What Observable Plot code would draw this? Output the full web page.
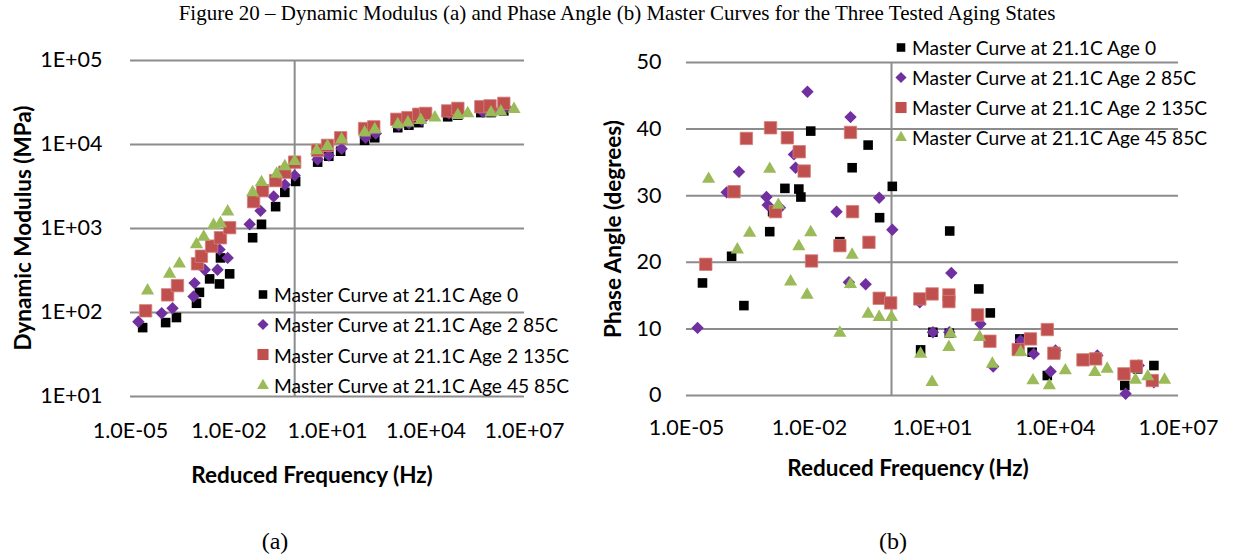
<!DOCTYPE html>
<html><head><meta charset="utf-8">
<script src="https://cdn.jsdelivr.net/npm/d3@7"></script>
<script src="https://cdn.jsdelivr.net/npm/@observablehq/plot@0.6"></script>
<style>
body{margin:0;background:#fff;}
#root{position:relative;width:1234px;height:557px;overflow:hidden;background:#fff;}
.abs{position:absolute;white-space:nowrap;}
.title{font-family:"Liberation Serif";font-size:21px;left:0;width:1234px;text-align:center;top:1px;}
.axt{font-family:Lato;font-weight:700;font-size:22.5px;transform:translate(-50%,-50%);}
.axt.rot{transform:translate(-50%,-50%) rotate(-90deg);}
.cap{font-family:"Liberation Serif";font-size:24px;transform:translate(-50%,-50%);}
.leg{font-family:Lato;font-size:19.2px;display:flex;align-items:center;transform:translateY(-50%);}
.leg svg{margin-right:4px;overflow:visible;}
.panel{position:absolute;top:0;}
</style></head>
<body><div id="root"></div>
<script>
// ---- series ----
const seriesNames = ["Master Curve at 21.1C Age 0", "Master Curve at 21.1C Age 2 85C", "Master Curve at 21.1C Age 2 135C", "Master Curve at 21.1C Age 45 85C"];
const seriesColors = ["#000000", "#7030A0", "#C0504D", "#9BBB59"];
const seriesSymbols = ["square", "diamond2", "square", "triangle"];
const seriesRadii = [5.4, 5.6, 7.0, 4.9];

// ---- panel (a): log10 reduced frequency (Hz) and log10 dynamic modulus (MPa) ----
const age0LogFreqA   = [-4.63,-3.93,-3.60,-2.99,-2.90,-2.59,-2.29,-1.98,-2.26,-1.28,-1.01,-0.58,-0.30,0.03,0.70,1.04,1.40,2.13,2.44,3.14,3.48,3.78,4.66,4.97,5.67,5.98,6.37];
const age0LogMod     = [1.82,1.88,1.94,2.11,2.24,2.40,2.34,2.46,2.65,2.89,3.05,3.26,3.43,3.56,3.79,3.86,3.92,4.05,4.08,4.20,4.23,4.26,4.33,4.35,4.38,4.38,4.40];
const age2_85LogFreqA  = [-4.76,-4.05,-3.72,-3.08,-3.05,-2.74,-2.35,-2.04,-2.29,-1.37,-1.04,-0.64,-0.30,0.00,0.70,1.04,1.43,2.16,2.47,3.17,3.48,3.87,4.70,5.00,5.73,6.07,6.43];
const age2_85LogMod    = [1.89,1.99,2.05,2.19,2.35,2.51,2.51,2.65,2.75,3.05,3.21,3.38,3.52,3.63,3.82,3.87,3.95,4.08,4.13,4.23,4.25,4.29,4.37,4.38,4.39,4.40,4.44];
const age2_135LogFreqA = [-4.54,-3.87,-3.57,-2.96,-2.84,-2.53,-2.26,-1.98,-1.25,-0.98,-0.58,-0.30,0.00,0.70,1.00,1.40,2.13,2.41,3.11,3.45,3.78,3.99,4.66,4.97,5.67,5.95,6.37];
const age2_135LogMod   = [2.02,2.21,2.32,2.58,2.67,2.79,2.89,3.01,3.32,3.45,3.57,3.67,3.79,3.93,3.99,4.08,4.19,4.21,4.30,4.32,4.36,4.37,4.40,4.43,4.45,4.46,4.49];
const age45LogFreqA  = [-4.48,-3.81,-3.51,-2.99,-2.77,-2.47,-2.26,-2.04,-1.28,-1.01,-0.55,-0.30,0.00,0.67,1.00,1.43,2.13,2.44,3.14,3.45,3.84,4.27,4.97,5.27,5.98,6.28,6.68];
const age45LogMod    = [2.26,2.46,2.58,2.81,2.90,3.04,3.06,3.20,3.43,3.55,3.65,3.74,3.80,3.93,3.98,4.06,4.14,4.18,4.24,4.26,4.29,4.32,4.35,4.37,4.38,4.39,4.42];

// ---- panel (b): log10 reduced frequency (Hz) and phase angle (degrees) ----
const age0LogFreqB   = [-4.61,-3.90,-3.60,-2.97,-2.90,-2.60,-2.26,-2.21,-1.97,-1.26,-0.96,-0.57,-0.29,0.02,0.71,1.01,1.41,1.42,2.13,2.41,3.13,3.43,3.80,4.00,4.69,4.98,5.69,6.00,6.40];
const age0Phase      = [16.9,20.9,13.5,24.6,27.6,31.1,31.0,29.8,39.7,23.1,34.2,37.6,26.7,31.4,6.85,9.5,9.35,24.7,16.0,12.4,8.5,6.5,3.0,6.5,5.2,5.5,1.5,4.0,4.5];
const age2_85LogFreqB  = [-4.73,-4.02,-3.72,-3.05,-3.02,-2.72,-2.38,-2.34,-2.05,-1.34,-1.04,-1.00,-0.63,-0.30,0.02,0.69,1.01,1.41,1.46,2.17,2.48,3.15,3.47,3.88,4.00,5.02,5.71,6.03,6.40];
const age2_85Phase     = [10.15,30.5,33.6,29.8,28.6,28.2,36.2,34.2,45.6,27.6,17.0,41.8,16.7,29.7,24.9,14.0,9.5,9.5,18.4,10.75,4.35,8.25,6.25,3.6,6.75,6.0,0.25,4.5,2.0];
const age2_135LogFreqB = [-4.53,-3.84,-3.54,-2.95,-2.83,-2.54,-2.25,-2.13,-1.95,-1.26,-1.00,-0.95,-0.55,-0.30,-0.02,0.69,0.99,1.40,1.40,2.10,2.40,3.09,3.39,3.80,3.96,4.67,4.98,5.67,5.97,6.36];
const age2_135Phase    = [19.7,30.6,38.6,40.2,27.6,38.7,36.6,33.7,20.2,22.5,39.5,27.6,23.0,14.6,13.9,14.5,15.25,15.1,14.1,12.1,8.15,6.9,8.5,9.9,6.35,5.35,5.5,3.25,4.4,2.25];
const age45LogFreqB  = [-4.46,-3.76,-3.46,-2.97,-2.76,-2.46,-2.26,-2.06,-1.97,-1.26,-1.00,-0.96,-0.57,-0.30,0.00,0.71,0.99,1.40,1.44,2.15,2.46,3.15,3.45,3.85,4.24,4.96,5.26,5.95,6.25,6.66];
const age45Phase     = [32.5,21.9,24.4,34.0,28.6,17.1,22.4,15.1,24.5,9.4,16.7,21.1,12.25,11.75,11.75,6.25,2.0,7.25,9.25,8.75,4.75,6.5,2.25,1.5,3.75,3.5,4.0,2.35,2.85,2.35];

// ---- ticks & labels ----
const freqTicks = [1e-5, 1e-2, 1e1, 1e4, 1e7];
const modTicks = [1e1, 1e2, 1e3, 1e4, 1e5];
const phaseTicks = [0, 10, 20, 30, 40, 50];
const titleText = "Figure 20 \u2013 Dynamic Modulus (a) and Phase Angle (b) Master Curves for the Three Tested Aging States";
const xTitle = "Reduced Frequency (Hz)";
const yTitleA = "Dynamic Modulus (MPa)";
const yTitleB = "Phase Angle (degrees)";
const captions = ["(a)", "(b)"];

const fmtFreq = d => { const e = Math.round(Math.log10(d)); return "1.0E" + (e < 0 ? "-" : "+") + String(Math.abs(e)).padStart(2, "0"); };
const fmtMod = d => { const e = Math.round(Math.log10(d)); return "1E+" + String(e).padStart(2, "0"); };

const modSets = [[age0LogFreqA, age0LogMod],[age2_85LogFreqA, age2_85LogMod],[age2_135LogFreqA, age2_135LogMod],[age45LogFreqA, age45LogMod]];
const phaseSets = [[age0LogFreqB, age0Phase],[age2_85LogFreqB, age2_85Phase],[age2_135LogFreqB, age2_135Phase],[age45LogFreqB, age45Phase]];

const modData = seriesNames.map((s, i) => modSets[i][0].map((lf, k) => ({f: 10 ** lf, v: 10 ** modSets[i][1][k]})));
const phaseData = seriesNames.map((s, i) => phaseSets[i][0].map((lf, k) => ({f: 10 ** lf, v: phaseSets[i][1][k]})));

const grid = "#8c8c8c";
const dotMarks = data => data.map((rows, i) => Plot.dot(rows, {x: "f", y: "v", symbol: seriesSymbols[i], r: seriesRadii[i], fill: seriesColors[i], stroke: i === 2 ? "#d47f7c" : "none", strokeWidth: 0.8}));

const root = document.getElementById("root");

const left = Plot.plot({
  width: 580, height: 470,
  marginLeft: 130, marginTop: 60, marginRight: 56, marginBottom: 74,
  style: {background: "transparent", fontFamily: "Lato", fontSize: "21.5px", color: "#000", overflow: "visible"},
  x: {type: "log", domain: [1e-5, 1e7]},
  y: {type: "log", domain: [10, 1e5]},
  marks: [
    Plot.ruleY(modTicks, {stroke: grid, strokeWidth: 2}),
    Plot.ruleX([1], {stroke: grid, strokeWidth: 2}),
    Plot.axisX(freqTicks, {tickSize: 0, tickPadding: 26, tickFormat: fmtFreq, label: null}),
    Plot.axisY(modTicks, {tickSize: 0, tickPadding: 28, tickFormat: fmtMod, label: null}),
    ...dotMarks(modData)
  ]
});
left.classList.add("panel"); left.style.left = "0px";
root.appendChild(left);

const right = Plot.plot({
  width: 640, height: 470,
  marginLeft: 96, marginTop: 62, marginRight: 52, marginBottom: 75,
  style: {background: "transparent", fontFamily: "Lato", fontSize: "21.5px", color: "#000", overflow: "visible"},
  x: {type: "log", domain: [1e-5, 1e7]},
  y: {type: "linear", domain: [0, 50]},
  marks: [
    Plot.ruleY(phaseTicks, {stroke: grid, strokeWidth: 2}),
    Plot.ruleX([1], {stroke: grid, strokeWidth: 2}),
    Plot.axisX(freqTicks, {tickSize: 0, tickPadding: 24, tickFormat: fmtFreq, label: null}),
    Plot.axisY(phaseTicks, {tickSize: 0, tickPadding: 25, tickFormat: d => String(d), label: null}),
    ...dotMarks(phaseData)
  ]
});
right.classList.add("panel"); right.style.left = "590px";
root.appendChild(right);

function addText(cls, text, x, y) {
  const d = document.createElement("div");
  d.className = "abs " + cls;
  d.textContent = text;
  if (x !== null) d.style.left = x + "px";
  if (y !== null) d.style.top = y + "px";
  root.appendChild(d);
  return d;
}
addText("title", titleText, null, null);
addText("axt", xTitle, 312, 474);
addText("axt", xTitle, 908, 467);
addText("axt rot", yTitleA, 22, 228);
addText("axt rot", yTitleB, 612, 229);
addText("cap", captions[0], 275, 541);
addText("cap", captions[1], 893, 541);

function addLegend(x, y0, step) {
  seriesNames.forEach((name, i) => {
    const d = document.createElement("div");
    d.className = "abs leg";
    d.style.left = (x - 7) + "px";
    d.style.top = (y0 + i * step) + "px";
    const size = Math.PI * seriesRadii[i] * seriesRadii[i] * 0.8;
    const sym = {square: d3.symbolSquare, diamond2: d3.symbolDiamond2, triangle: d3.symbolTriangle}[seriesSymbols[i]];
    const path = d3.symbol(sym, size)();
    const svg = d3.create("svg").attr("width", 14).attr("height", 14).attr("viewBox", "-7 -7 14 14");
    svg.append("path").attr("d", path).attr("fill", seriesColors[i]);
    d.appendChild(svg.node());
    const t = document.createElement("span"); t.textContent = name;
    d.appendChild(t);
    root.appendChild(d);
  });
}
addLegend(263, 294, 30.4);
addLegend(901, 47, 30);
</script>
</body></html>
